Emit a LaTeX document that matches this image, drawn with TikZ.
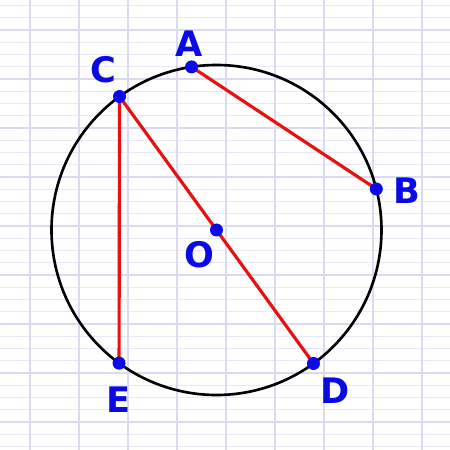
\documentclass[tikz,border=0pt]{standalone}
\usepackage{fontspec}
\setsansfont{DejaVu Sans}
\usetikzlibrary{positioning}
\definecolor{gridminor}{RGB}{232,232,248}
\definecolor{gridmajor}{RGB}{218,218,243}
\definecolor{ptblue}{RGB}{10,10,230}
\definecolor{segred}{RGB}{232,16,16}
\tikzset{
  minor/.style={gridminor, line width=0.5pt},
  major/.style={gridmajor, line width=0.7pt},
  rim/.style={black, line width=1.5pt},
  chord/.style={segred, line width=1.8pt},
  dot/.style={circle, fill=ptblue, inner sep=0pt, minimum size=0.26cm},
  lbl/.style={text=ptblue, font=\sffamily\bfseries\fontsize{20}{20}\selectfont, inner sep=0pt}
}
\begin{document}
\begin{tikzpicture}
\useasboundingbox (0,0) rectangle (9,9);
\fill[white] (0,0) rectangle (9,9);
% graph paper
\foreach \k in {0,...,36}
	\draw[minor] (0,{8.89-0.245*\k}) -- (9,{8.89-0.245*\k});
\foreach \k in {0,...,8}
	\draw[major] (0,{8.4-0.98*\k}) -- (9,{8.4-0.98*\k});
\foreach \k in {0,...,8}
	\draw[major] ({0.6+0.98*\k},0) -- ({0.6+0.98*\k},9);
% circle and points
\coordinate (O) at (4.33,4.4);
\draw[rim] (O) circle (3.3);
\coordinate (A) at ([shift={(98.7:3.3)}]O);
\coordinate (B) at ([shift={(14.4:3.3)}]O);
\coordinate (C) at ([shift={(126:3.3)}]O);
\coordinate (D) at ([shift={(-54:3.3)}]O);
\coordinate (E) at ([shift={(233.8:3.3)}]O);
\draw[chord] (A) -- (B);
\draw[chord] (C) -- (D);
\draw[chord] (C) -- (E);
\foreach \p in {A,B,C,D,E,O}
	\node[dot] at (\p) {};
% labels
\node[lbl] (labA) at ([shift={(-0.04,0.46)}]A) {A};
\node[lbl] (labB) at ([shift={(0.62,-0.03)}]B) {B};
\node[lbl] (labC) at ([shift={(-0.32,0.54)}]C) {C};
\node[lbl] (labO) at ([shift={(-0.34,-0.5)}]O) {O};
\node[lbl] (labD) at ([shift={(0.43,-0.54)}]D) {D};
\node[lbl] (labE) at ([shift={(-0.02,-0.74)}]E) {E};
\end{tikzpicture}
\end{document}
